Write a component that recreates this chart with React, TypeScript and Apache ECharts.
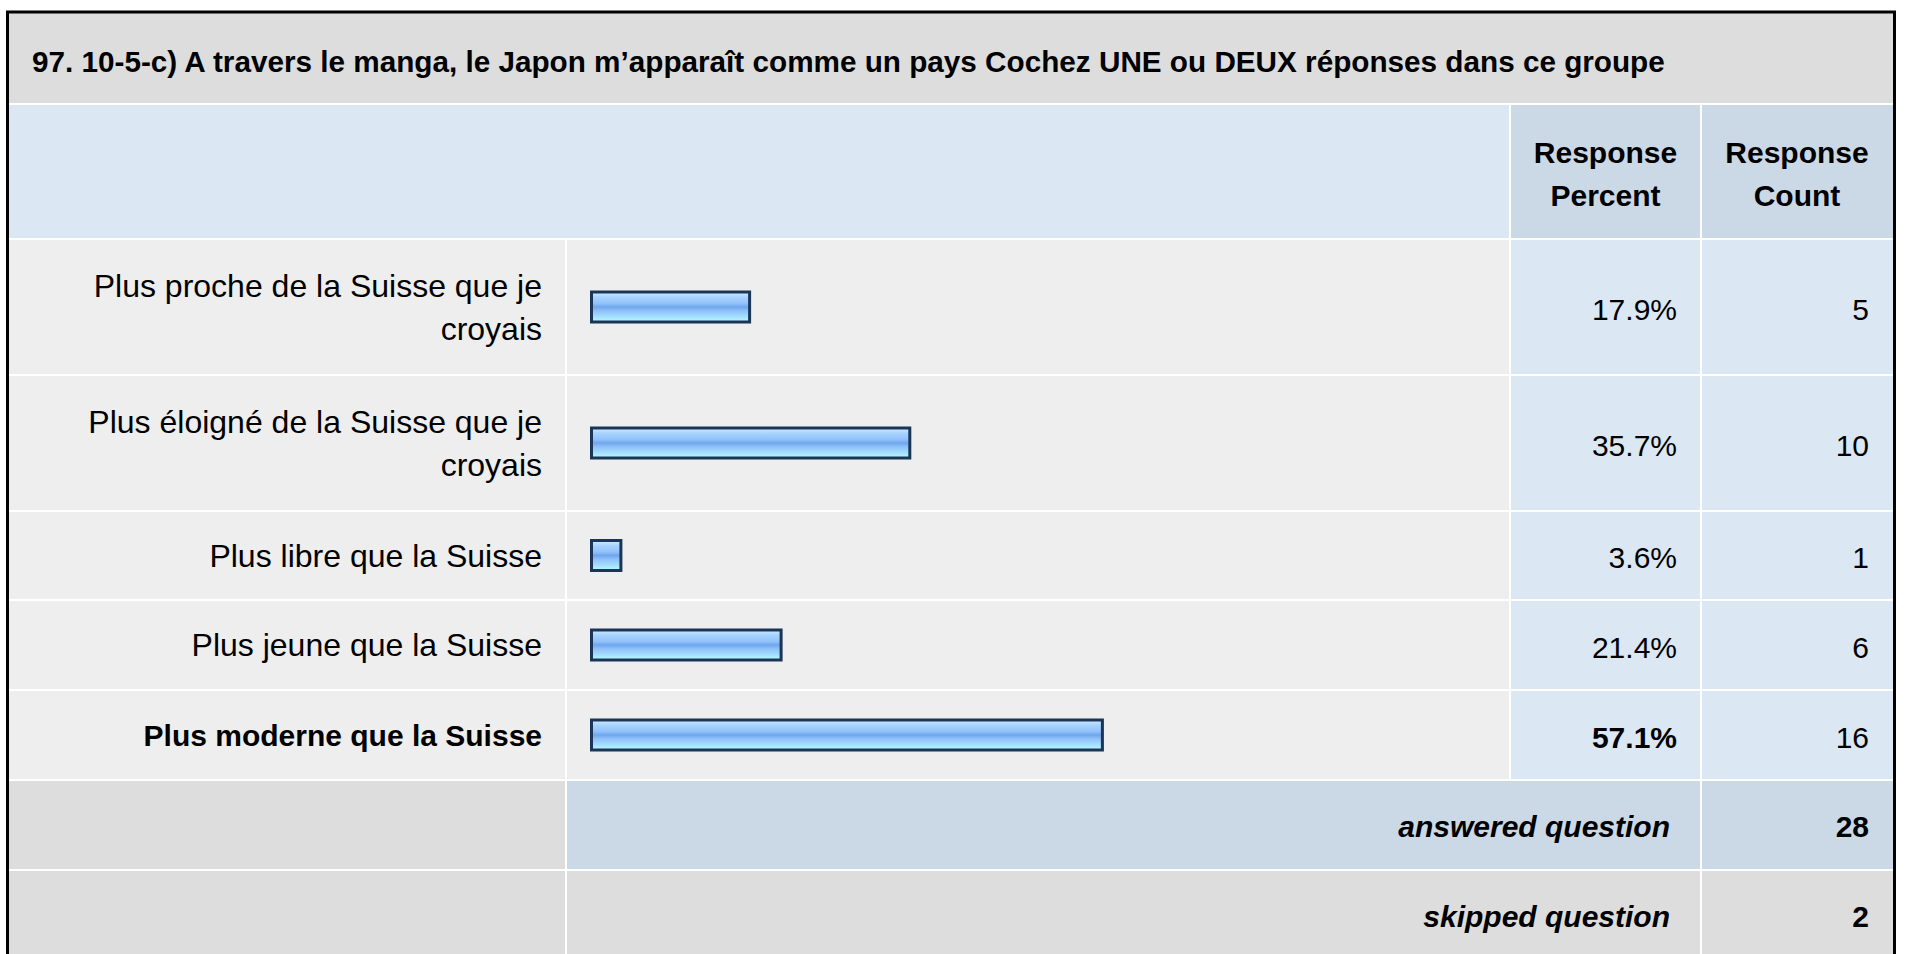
import React, { useEffect, useRef } from "react";
import * as echarts from "echarts";

const TITLE =
  "97. 10-5-c) A travers le manga, le Japon m’apparaît comme un pays Cochez UNE ou DEUX réponses dans ce groupe";
const HEADER_PERCENT = "Response\nPercent";
const HEADER_COUNT = "Response\nCount";
const categories = [
  "Plus proche de la Suisse que je croyais",
  "Plus éloigné de la Suisse que je croyais",
  "Plus libre que la Suisse",
  "Plus jeune que la Suisse",
  "Plus moderne que la Suisse",
];
const percents = [17.9, 35.7, 3.6, 21.4, 57.1];
const counts = [5, 10, 1, 6, 16];
const ANSWERED_LABEL = "answered question";
const SKIPPED_LABEL = "skipped question";
const answeredCount = 28;
const skippedCount = 2;

// layout (pixels)
const ROWS: [number, number][] = [
  [240, 374],
  [376, 510],
  [512, 599],
  [601, 689],
  [691, 779],
];
const ANS_ROW: [number, number] = [781, 869];
const SKIP_ROW: [number, number] = [871, 960];
const X0 = 8;
const C1 = 565;
const C1b = 567;
const C2 = 1509;
const C2b = 1511;
const C3 = 1700;
const C3b = 1702;
const XR = 1893;
const FONT = "'Liberation Sans', Arial, Helvetica, sans-serif";
const LABEL_WRAP = 500;

const GRAY_TITLE = "#dddddd";
const BLUE_LIGHT = "#dce7f4";
const BLUE_HEAD = "#cbd8e6";
const GRAY_ROW = "#eeeeee";

function wrapText(t: string, font: string, maxW: number): string {
  const ctx = document.createElement("canvas").getContext("2d");
  if (!ctx) return t;
  ctx.font = font;
  const words = t.split(" ");
  const lines: string[] = [];
  let cur = "";
  words.forEach((w) => {
    const trial = cur ? cur + " " + w : w;
    if (cur && ctx.measureText(trial).width > maxW) {
      lines.push(cur);
      cur = w;
    } else {
      cur = trial;
    }
  });
  if (cur) lines.push(cur);
  return lines.join("\n");
}

function rect(x1: number, y1: number, x2: number, y2: number, fill: string) {
  return {
    type: "rect",
    z: 0,
    silent: true,
    shape: { x: x1, y: y1, width: x2 - x1, height: y2 - y1 },
    style: { fill },
  };
}

function text(
  t: string,
  x: number,
  y: number,
  align: string,
  size: number,
  weight: string = "normal",
  style: string = "normal",
  lineHeight?: number
) {
  return {
    type: "text",
    z: 5,
    silent: true,
    x,
    y,
    style: {
      text: t,
      fill: "#000000",
      fontSize: size,
      fontWeight: weight,
      fontStyle: style,
      fontFamily: FONT,
      align,
      textAlign: align,
      verticalAlign: "middle",
      textVerticalAlign: "middle",
      lineHeight: lineHeight || size * 1.2,
    },
  };
}

export default function App() {
  const ref = useRef<HTMLDivElement>(null);

  useEffect(() => {
    if (!ref.current) return;
    const chart = echarts.init(ref.current, undefined, { renderer: "svg" });
    const maxPct = Math.max(...percents);

    const elements: any[] = [];
    elements.push(rect(X0, 12, XR, 960, "#ffffff"));
    // title
    elements.push(rect(X0, 13, XR, 103, GRAY_TITLE));
    // header
    elements.push(rect(X0, 105, C2, 238, BLUE_LIGHT));
    elements.push(rect(C2b, 105, C3, 238, BLUE_HEAD));
    elements.push(rect(C3b, 105, XR, 238, BLUE_HEAD));
    // data rows
    ROWS.forEach(([a, b], i) => {
      elements.push(rect(X0, a, C1, b, GRAY_ROW));
      elements.push(rect(C1b, a, C2, b, GRAY_ROW));
      elements.push(rect(C2b, a, C3, b, BLUE_LIGHT));
      elements.push(rect(C3b, a, XR, b, BLUE_LIGHT));
      const cy = (a + b) / 2 + 2;
      const isMax = percents[i] === maxPct;
      elements.push(
        text(percents[i].toFixed(1) + "%", 1677, cy, "right", 30, isMax ? "bold" : "normal")
      );
      elements.push(text(String(counts[i]), 1869, cy, "right", 30));
    });
    // answered
    elements.push(rect(X0, ANS_ROW[0], C1, ANS_ROW[1], GRAY_TITLE));
    elements.push(rect(C1b, ANS_ROW[0], C3, ANS_ROW[1], BLUE_HEAD));
    elements.push(rect(C3b, ANS_ROW[0], XR, ANS_ROW[1], BLUE_HEAD));
    // skipped
    elements.push(rect(X0, SKIP_ROW[0], C1, SKIP_ROW[1], GRAY_TITLE));
    elements.push(rect(C1b, SKIP_ROW[0], C3, SKIP_ROW[1], GRAY_TITLE));
    elements.push(rect(C3b, SKIP_ROW[0], XR, SKIP_ROW[1], GRAY_TITLE));
    // outer border
    elements.push({
      type: "rect",
      z: 6,
      silent: true,
      shape: { x: 7.5, y: 12, width: 1887, height: 1000 },
      style: { fill: "none", stroke: "#000000", lineWidth: 3 },
    });
    // texts
    elements.push(text(TITLE, 32, 61, "left", 29.7, "bold"));
    elements.push(text(HEADER_PERCENT, 1605.5, 174, "center", 30, "bold", "normal", 43.5));
    elements.push(text(HEADER_COUNT, 1797, 174, "center", 30, "bold", "normal", 43.5));
    const ansCy = (ANS_ROW[0] + ANS_ROW[1]) / 2 + 1;
    const skipCy = 916;
    elements.push(text(ANSWERED_LABEL, 1670, ansCy, "right", 30, "bold", "italic"));
    elements.push(text(String(answeredCount), 1869, ansCy, "right", 30, "bold"));
    elements.push(text(SKIPPED_LABEL, 1670, skipCy, "right", 30, "bold", "italic"));
    elements.push(text(String(skippedCount), 1869, skipCy, "right", 30, "bold"));

    const barColor = new echarts.graphic.LinearGradient(0, 0, 0, 1, [
      { offset: 0, color: "#d4ecff" },
      { offset: 0.18, color: "#a6d2ff" },
      { offset: 0.38, color: "#92c2fa" },
      { offset: 0.5, color: "#6ea6ee" },
      { offset: 0.62, color: "#8ec0f8" },
      { offset: 0.82, color: "#a4ddff" },
      { offset: 1, color: "#b6ffff" },
    ]);

    const grids: any[] = [];
    const xAxes: any[] = [];
    const yAxes: any[] = [];
    const series: any[] = [];
    categories.forEach((cat, i) => {
      const [a, b] = ROWS[i];
      const isMax = percents[i] === maxPct;
      const fontSize = isMax ? 30 : 32;
      const fontWeight = isMax ? "bold" : "normal";
      const wrapped = wrapText(
        cat,
        `${fontWeight} ${fontSize}px 'Liberation Sans', Arial, sans-serif`,
        LABEL_WRAP
      );
      grids.push({ left: 590, width: 900, top: a, height: b - a, containLabel: false });
      xAxes.push({
        gridIndex: i,
        type: "value",
        min: 0,
        max: 100,
        show: false,
      });
      yAxes.push({
        gridIndex: i,
        type: "category",
        data: [cat],
        axisLine: { show: false },
        axisTick: { show: false },
        splitLine: { show: false },
        axisLabel: {
          show: true,
          margin: 48,
          color: "#000000",
          fontSize,
          fontFamily: FONT,
          fontWeight,
          lineHeight: 43,
          align: "right",
          formatter: () => wrapped,
        },
      });
      series.push({
        type: "bar",
        xAxisIndex: i,
        yAxisIndex: i,
        data: [percents[i]],
        barWidth: 33,
        z: 3,
        itemStyle: {
          color: barColor,
          borderColor: "#1b3557",
          borderWidth: 3,
        },
        silent: true,
      });
    });

    chart.setOption({
      animation: false,
      backgroundColor: "#ffffff",
      graphic: { elements },
      grid: grids,
      xAxis: xAxes,
      yAxis: yAxes,
      series,
    });

    return () => chart.dispose();
  }, []);

  return (
    <div
      ref={ref}
      style={{ position: "fixed", left: 0, top: 0, width: 1907, height: 954 }}
    />
  );
}
